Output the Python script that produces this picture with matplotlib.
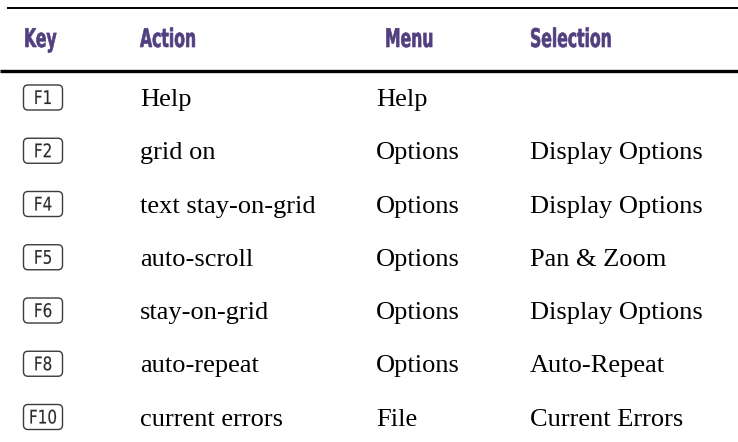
import matplotlib
matplotlib.use("Agg")
import matplotlib.pyplot as plt
from matplotlib.patches import FancyBboxPatch
from matplotlib.patheffects import AbstractPathEffect
from matplotlib.transforms import Affine2D

headers = ["Key", "Action", "Menu", "Selection"]
keys = ["F1", "F2", "F4", "F5", "F6", "F8", "F10"]
actions = ["Help", "grid on", "text stay-on-grid", "auto-scroll",
           "stay-on-grid", "auto-repeat", "current errors"]
menus = ["Help", "Options", "Options", "Options", "Options", "Options", "File"]
selections = ["", "Display Options", "Display Options", "Pan & Zoom",
              "Display Options", "Auto-Repeat", "Current Errors"]


class HSqueeze(AbstractPathEffect):
    """Compress glyph outlines horizontally about an anchor x (display px),
    optionally adding an outline stroke to embolden them."""
    def __init__(self, sx, x0, stroke=0.0, color="black"):
        super().__init__()
        self.sx = sx
        self.x0 = x0
        self.stroke = stroke
        self.color = color

    def draw_path(self, renderer, gc, tpath, affine, rgbFace=None):
        aff = affine + Affine2D().translate(-self.x0, 0).scale(self.sx, 1).translate(self.x0, 0)
        gc0 = renderer.new_gc()
        gc0.copy_properties(gc)
        if self.stroke > 0:
            gc0.set_linewidth(self.stroke)
            gc0.set_foreground(self.color)
            gc0.set_joinstyle("round")
        renderer.draw_path(gc0, tpath, aff, rgbFace)
        gc0.restore()


W, H = 738, 442
fig = plt.figure(figsize=(W / 100, H / 100), dpi=100)
ax = fig.add_axes([0, 0, 1, 1])
ax.set_xlim(0, W)
ax.set_ylim(H, 0)
ax.axis("off")

purple = "#523F80"
key_color = "#2a2a2a"
head_font = dict(family=["DejaVu Sans"], fontweight="bold")
body_font = dict(family=["Liberation Serif", "DejaVu Serif"])
key_font = dict(family=["DejaVu Sans"], fontstretch="condensed")

# rules
ax.plot([7, W], [8, 8], color="black", lw=1.4, solid_capstyle="butt")
ax.plot([0, W], [71, 71], color="black", lw=2.4, solid_capstyle="butt")

head_x = [24, 140, 385, 530]
head_texts = []
for hx, h in zip(head_x, headers):
    t = ax.text(hx, 47, h, color=purple, fontsize=18.5, ha="left", va="baseline", **head_font)
    head_texts.append((hx, t))

row0, dy = 97.5, 53.25
col_action, col_menu, col_sel = 140, 376, 530
key_texts = []
for i, (k, a, m, s) in enumerate(zip(keys, actions, menus, selections)):
    yc = row0 + dy * i
    box = FancyBboxPatch((23.5, yc - 12.5), 39, 25,
                         boxstyle="round,pad=0,rounding_size=4.5",
                         fc="white", ec="#3a3a3a", lw=1.0)
    ax.add_patch(box)
    t = ax.text(43, yc + 6.5, k, fontsize=13.5, ha="center", va="baseline",
                color=key_color, **key_font)
    key_texts.append(t)
    base = yc + 8.7
    ax.text(col_action, base, a, fontsize=19, ha="left", va="baseline",
            color="black", **body_font)
    ax.text(col_menu, base, m, fontsize=19, ha="left", va="baseline",
            color="black", **body_font)
    if s:
        ax.text(col_sel, base, s, fontsize=19, ha="left", va="baseline",
                color="black", **body_font)

# condense the sans-serif labels to mimic the narrow face of the reference
fig.canvas.draw()
renderer = fig.canvas.get_renderer()
sel_w = head_texts[-1][1].get_window_extent(renderer).width
sx_head = 82.0 / sel_w
for hx, t in head_texts:
    x0 = ax.transData.transform((hx, 0))[0]
    t.set_path_effects([HSqueeze(sx_head, x0, stroke=0.45, color=purple)])
f10_w = key_texts[-1].get_window_extent(renderer).width
sx_key = min(1.0, 28.0 / f10_w)
for t in key_texts:
    x0 = ax.transData.transform((43, 0))[0]
    t.set_path_effects([HSqueeze(sx_key, x0, stroke=0.1, color=key_color)])

fig.savefig("out.png", dpi=100)
